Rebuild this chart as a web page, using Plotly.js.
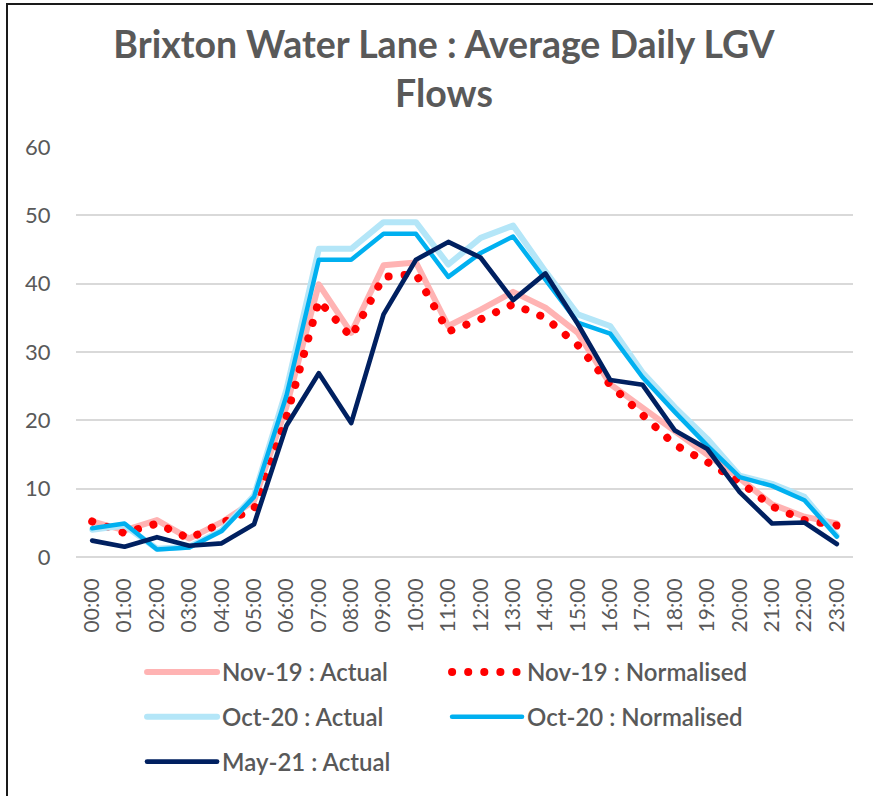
<!DOCTYPE html>
<html>
<head>
<meta charset="utf-8">
<script src="https://cdn.plot.ly/plotly-3.0.1.min.js"></script>
<style>
  html, body { margin: 0; padding: 0; background: #fff; overflow: hidden; }
  #chart { width: 873px; height: 796px; }
  #frame { position: absolute; left: 6px; top: 3px; width: 1000px; height: 1000px;
           border-left: 2px solid #1a1a1a; border-top: 2px solid #1a1a1a; pointer-events: none; }
  .js-line { stroke-linecap: round !important; stroke-linejoin: round !important; }
</style>
</head>
<body>
<div id="chart"></div>
<div id="frame"></div>
<script>
const hours = ["00:00","01:00","02:00","03:00","04:00","05:00","06:00","07:00","08:00","09:00","10:00","11:00",
               "12:00","13:00","14:00","15:00","16:00","17:00","18:00","19:00","20:00","21:00","22:00","23:00"];

const nov19Actual = [5.2, 3.9, 5.4, 2.7, 5.1, 8.2, 22.0, 39.9, 32.8, 42.7, 43.1, 33.8,
                     36.2, 38.8, 36.5, 32.8, 25.3, 21.9, 18.3, 15.1, 11.5, 7.7, 5.9, 4.9];
const nov19Normalised = [5.2, 3.5, 4.9, 2.7, 5.0, 7.0, 20.5, 37.5, 32.2, 41.0, 41.4, 33.0,
                         34.8, 37.0, 35.0, 31.0, 25.2, 20.6, 16.4, 13.9, 11.0, 7.4, 5.4, 4.6];
const oct20Actual = [4.0, 4.6, 1.2, 1.5, 3.9, 9.0, 24.5, 45.1, 45.1, 49.0, 49.0, 42.8,
                     46.7, 48.5, 41.8, 35.5, 33.8, 27.0, 21.9, 17.3, 11.9, 10.7, 8.8, 3.1];
const oct20Normalised = [4.2, 4.9, 1.1, 1.4, 3.8, 8.8, 23.6, 43.5, 43.5, 47.3, 47.3, 41.0,
                         44.5, 46.9, 40.6, 34.3, 32.7, 26.3, 21.2, 16.3, 11.7, 10.4, 8.3, 3.0];
const may21Actual = [2.4, 1.5, 2.9, 1.65, 2.0, 4.8, 19.2, 26.9, 19.6, 35.5, 43.5, 46.1,
                     43.8, 37.6, 41.5, 34.1, 25.9, 25.2, 18.5, 15.8, 9.5, 4.9, 5.05, 1.9];

const seriesNames = ["Nov-19 : Actual", "Nov-19 : Normalised", "Oct-20 : Actual", "Oct-20 : Normalised", "May-21 : Actual"];

const traces = [
  {x: hours, y: nov19Actual, name: seriesNames[0], legend: "legend",
   line: {color: "#ffb3b3", width: 6}},
  {x: hours, y: nov19Normalised, name: seriesNames[1], legend: "legend",
   line: {color: "#ff0000", width: 8, dash: "0.1px,16px"}},
  {x: hours, y: oct20Actual, name: seriesNames[2], legend: "legend2",
   line: {color: "#b4e6f8", width: 6}},
  {x: hours, y: oct20Normalised, name: seriesNames[3], legend: "legend2",
   line: {color: "#00b0f0", width: 4.5}},
  {x: hours, y: may21Actual, name: seriesNames[4], legend: "legend3",
   line: {color: "#002060", width: 4.7}}
].map(t => Object.assign({type: "scatter", mode: "lines", hoverinfo: "skip"}, t));

const legendBase = {
  orientation: "h", xanchor: "left", yanchor: "middle", x: 0.085,
  entrywidth: 220, entrywidthmode: "pixels", itemwidth: 70,
  font: {family: "Lato, sans-serif", size: 24, color: "#595959", weight: 600},
  bgcolor: "rgba(0,0,0,0)"
};
function rowY(px) { return -(px - 559) / 412; }

const layout = {
  width: 873, height: 796,
  margin: {l: 76, r: 20, t: 147, b: 237},
  paper_bgcolor: "#ffffff", plot_bgcolor: "#ffffff",
  font: {family: "Lato, sans-serif", color: "#595959"},
  title: {
    text: "Brixton Water Lane : Average Daily LGV<br>Flows",
    font: {family: "Lato, sans-serif", size: 37.5, color: "#595959", weight: 700},
    x: 0.4736, xref: "paper", xanchor: "center",
    y: 1 - 58 / 796, yref: "container", yanchor: "top"
  },
  xaxis: {
    type: "category", range: [-0.5, 23.5], tickangle: -90, showgrid: false, zeroline: false, showline: false,
    ticks: "outside", ticklen: 12, tickcolor: "rgba(0,0,0,0)",
    tickfont: {family: "Lato, sans-serif", size: 21, color: "#595959"},
    fixedrange: true
  },
  yaxis: {
    range: [0, 60], dtick: 10, showgrid: true, gridcolor: "#d9d9d9", gridwidth: 2,
    zeroline: true, zerolinecolor: "#d9d9d9", zerolinewidth: 2, showline: false,
    ticks: "outside", ticklen: 20, tickcolor: "rgba(0,0,0,0)",
    tickfont: {family: "Lato, sans-serif", size: 22, color: "#595959"},
    fixedrange: true
  },
  legend: Object.assign({}, legendBase, {y: rowY(675)}),
  legend2: Object.assign({}, legendBase, {y: rowY(720)}),
  legend3: Object.assign({}, legendBase, {y: rowY(765)}),
  showlegend: true
};

Plotly.newPlot("chart", traces, layout, {displayModeBar: false, staticPlot: true});
</script>
</body>
</html>
